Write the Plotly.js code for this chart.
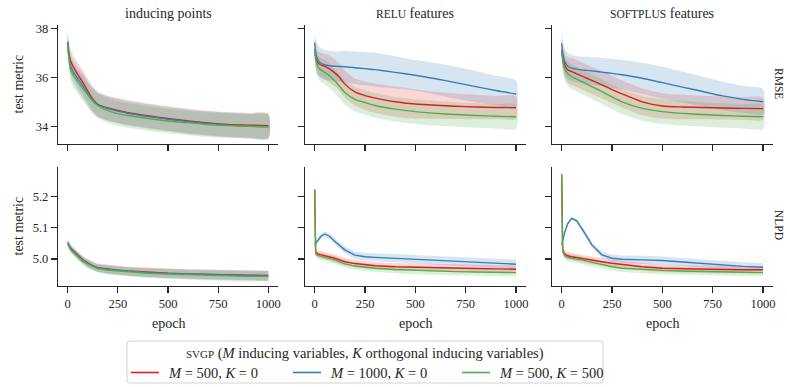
<!DOCTYPE html>
<html>
<head>
<meta charset="utf-8">
<script src="https://cdn.plot.ly/plotly-3.0.1.min.js"></script>
<style>html,body{margin:0;padding:0;background:#fff;}#chart{width:787px;height:387px;}</style>
</head>
<body>
<div id="chart"></div>
<script>
// ---------- data ----------
const epochs = [0, 5, 15, 30, 50, 75, 100, 125, 150, 200, 250, 300, 400, 500, 600, 700, 800, 900, 1000];
const seriesNames = ["<i>M</i> = 500, <i>K</i> = 0", "<i>M</i> = 1000, <i>K</i> = 0", "<i>M</i> = 500, <i>K</i> = 500"];
const seriesColors = ["#e41a1c", "#377eb8", "#4daf4a"];
const bandColors = ["rgba(228,26,28,0.18)", "rgba(55,126,184,0.2)", "rgba(77,175,74,0.2)"];
const columnTitles = ["inducing points", "<span style=\"font-size:11.5px\">RELU</span> features", "<span style=\"font-size:11.5px\">SOFTPLUS</span> features"];
const rowLabels = ["RMSE", "NLPD"];
const legendTitle = '<span style="font-size:11px">SVGP</span> (<i>M</i> inducing variables, <i>K</i> orthogonal inducing variables)';
const xTicks = [0, 250, 500, 750, 1000];
const rmseTicks = [34, 36, 38];
const nlpdTicks = [5.0, 5.1, 5.2];

// inducing points, RMSE
const ipRmseRed   = [37.41, 37.10, 36.65, 36.40, 36.12, 35.80, 35.45, 35.12, 34.90, 34.75, 34.65, 34.56, 34.43, 34.32, 34.22, 34.14, 34.08, 34.05, 34.03];
const ipRmseBlue  = [37.45, 37.00, 36.45, 36.20, 35.95, 35.65, 35.35, 35.08, 34.88, 34.72, 34.62, 34.53, 34.40, 34.29, 34.19, 34.11, 34.05, 34.01, 33.99];
const ipRmseGreen = [37.35, 36.90, 36.30, 36.05, 35.82, 35.55, 35.28, 35.02, 34.84, 34.64, 34.52, 34.44, 34.32, 34.22, 34.14, 34.07, 34.03, 34.00, 33.98];
const ipRmseSd    = [0.45, 0.45, 0.45, 0.46, 0.48, 0.50, 0.50, 0.50, 0.50, 0.50, 0.50, 0.50, 0.50, 0.50, 0.50, 0.50, 0.50, 0.50, 0.50];

// RELU features, RMSE
const reluRmseRed    = [37.14, 36.85, 36.60, 36.50, 36.44, 36.33, 36.18, 35.98, 35.72, 35.40, 35.25, 35.15, 35.00, 34.91, 34.86, 34.82, 34.79, 34.77, 34.76];
const reluRmseBlue   = [37.41, 37.00, 36.72, 36.58, 36.50, 36.47, 36.45, 36.44, 36.43, 36.39, 36.35, 36.31, 36.20, 36.08, 35.94, 35.78, 35.62, 35.46, 35.32];
const reluRmseGreen  = [37.10, 36.75, 36.45, 36.30, 36.20, 36.05, 35.85, 35.62, 35.38, 35.10, 34.97, 34.85, 34.70, 34.60, 34.53, 34.48, 34.44, 34.41, 34.39];
const reluRmseRedSd  = [0.45, 0.45, 0.48, 0.50, 0.52, 0.55, 0.55, 0.55, 0.55, 0.55, 0.58, 0.60, 0.62, 0.60, 0.55, 0.52, 0.50, 0.48, 0.46];
const reluRmseBlueSd = [0.45, 0.55, 0.60, 0.60, 0.60, 0.60, 0.60, 0.62, 0.64, 0.66, 0.68, 0.69, 0.66, 0.62, 0.64, 0.66, 0.64, 0.60, 0.55];
const reluRmseGreenSd= [0.45, 0.45, 0.46, 0.48, 0.50, 0.50, 0.50, 0.50, 0.50, 0.50, 0.50, 0.50, 0.50, 0.50, 0.50, 0.50, 0.50, 0.50, 0.50];

// SOFTPLUS features, RMSE
const spRmseRed    = [37.10, 36.80, 36.50, 36.30, 36.23, 36.14, 36.05, 35.96, 35.87, 35.69, 35.50, 35.32, 35.00, 34.83, 34.79, 34.77, 34.75, 34.73, 34.72];
const spRmseBlue   = [37.38, 37.00, 36.65, 36.45, 36.37, 36.33, 36.30, 36.28, 36.26, 36.21, 36.16, 36.10, 35.96, 35.78, 35.60, 35.42, 35.24, 35.10, 35.00];
const spRmseGreen  = [37.06, 36.70, 36.35, 36.15, 36.02, 35.92, 35.82, 35.72, 35.62, 35.41, 35.20, 35.00, 34.73, 34.60, 34.53, 34.48, 34.44, 34.41, 34.39];
const spRmseRedSd  = [0.45, 0.48, 0.50, 0.52, 0.55, 0.55, 0.55, 0.55, 0.55, 0.55, 0.55, 0.55, 0.55, 0.52, 0.50, 0.48, 0.47, 0.46, 0.45];
const spRmseBlueSd = [0.50, 0.52, 0.54, 0.54, 0.54, 0.54, 0.54, 0.56, 0.57, 0.58, 0.59, 0.60, 0.63, 0.65, 0.63, 0.60, 0.58, 0.55, 0.52];
const spRmseGreenSd= [0.45, 0.46, 0.48, 0.50, 0.50, 0.50, 0.50, 0.50, 0.50, 0.50, 0.50, 0.50, 0.50, 0.50, 0.50, 0.50, 0.50, 0.50, 0.50];

// inducing points, NLPD
const ipNlpdRed   = [5.052, 5.045, 5.035, 5.025, 5.012, 4.998, 4.987, 4.978, 4.972, 4.967, 4.964, 4.961, 4.957, 4.954, 4.952, 4.950, 4.949, 4.948, 4.947];
const ipNlpdBlue  = [5.051, 5.044, 5.033, 5.023, 5.010, 4.996, 4.985, 4.977, 4.971, 4.966, 4.963, 4.960, 4.956, 4.953, 4.951, 4.949, 4.947, 4.946, 4.945];
const ipNlpdGreen = [5.050, 5.042, 5.030, 5.020, 5.007, 4.993, 4.983, 4.975, 4.969, 4.964, 4.961, 4.958, 4.954, 4.951, 4.949, 4.947, 4.945, 4.944, 4.944];
const ipNlpdSd    = [0.010, 0.010, 0.011, 0.011, 0.012, 0.012, 0.013, 0.013, 0.013, 0.014, 0.014, 0.014, 0.015, 0.015, 0.015, 0.016, 0.016, 0.016, 0.016];

// RELU features, NLPD
const reluNlpdRed    = [5.223, 5.022, 5.016, 5.013, 5.010, 5.006, 5.002, 4.996, 4.991, 4.985, 4.981, 4.978, 4.975, 4.973, 4.971, 4.970, 4.969, 4.968, 4.967];
const reluNlpdBlue   = [5.045, 5.050, 5.060, 5.072, 5.080, 5.072, 5.056, 5.042, 5.029, 5.012, 5.007, 5.005, 5.002, 4.999, 4.996, 4.993, 4.990, 4.986, 4.983];
const reluNlpdGreen  = [5.223, 5.016, 5.011, 5.008, 5.005, 5.001, 4.997, 4.990, 4.984, 4.977, 4.973, 4.970, 4.966, 4.963, 4.961, 4.959, 4.958, 4.957, 4.956];
const reluNlpdRedSd  = [0.008, 0.010, 0.011, 0.012, 0.012, 0.012, 0.012, 0.012, 0.012, 0.012, 0.012, 0.012, 0.012, 0.012, 0.012, 0.012, 0.012, 0.012, 0.012];
const reluNlpdBlueSd = [0.006, 0.006, 0.007, 0.008, 0.008, 0.009, 0.010, 0.010, 0.011, 0.012, 0.012, 0.013, 0.013, 0.014, 0.014, 0.015, 0.015, 0.015, 0.015];
const reluNlpdGreenSd= [0.008, 0.010, 0.011, 0.012, 0.012, 0.012, 0.012, 0.012, 0.012, 0.012, 0.012, 0.012, 0.012, 0.012, 0.012, 0.012, 0.012, 0.012, 0.012];

// SOFTPLUS features, NLPD
const spNlpdRed    = [5.272, 5.030, 5.015, 5.010, 5.007, 5.004, 5.002, 4.999, 4.996, 4.991, 4.986, 4.982, 4.975, 4.970, 4.968, 4.967, 4.966, 4.965, 4.965];
const spNlpdBlue   = [5.045, 5.060, 5.085, 5.113, 5.130, 5.122, 5.098, 5.072, 5.045, 5.013, 5.002, 4.999, 4.997, 4.995, 4.990, 4.985, 4.979, 4.976, 4.973];
const spNlpdGreen  = [5.272, 5.025, 5.010, 5.005, 5.002, 5.000, 4.997, 4.993, 4.989, 4.982, 4.975, 4.970, 4.966, 4.963, 4.961, 4.959, 4.958, 4.957, 4.956];
const spNlpdRedSd  = [0.008, 0.010, 0.011, 0.012, 0.012, 0.012, 0.012, 0.012, 0.012, 0.012, 0.012, 0.012, 0.012, 0.012, 0.012, 0.012, 0.012, 0.012, 0.012];
const spNlpdBlueSd = [0.004, 0.004, 0.005, 0.005, 0.005, 0.006, 0.007, 0.008, 0.009, 0.010, 0.011, 0.012, 0.013, 0.013, 0.013, 0.013, 0.013, 0.013, 0.013];
const spNlpdGreenSd= [0.008, 0.010, 0.011, 0.012, 0.012, 0.012, 0.012, 0.012, 0.012, 0.012, 0.012, 0.012, 0.012, 0.012, 0.012, 0.012, 0.012, 0.012, 0.012];

// ---------- build ----------
const panels = [
  {ax: 1, smooth: true,  means: [ipRmseRed, ipRmseBlue, ipRmseGreen],       sds: [ipRmseSd, ipRmseSd, ipRmseSd]},
  {ax: 2, smooth: true,  means: [reluRmseRed, reluRmseBlue, reluRmseGreen], sds: [reluRmseRedSd, reluRmseBlueSd, reluRmseGreenSd]},
  {ax: 3, smooth: true,  means: [spRmseRed, spRmseBlue, spRmseGreen],       sds: [spRmseRedSd, spRmseBlueSd, spRmseGreenSd]},
  {ax: 4, smooth: false, means: [ipNlpdRed, ipNlpdBlue, ipNlpdGreen],       sds: [ipNlpdSd, ipNlpdSd, ipNlpdSd]},
  {ax: 5, smooth: false, means: [reluNlpdRed, reluNlpdBlue, reluNlpdGreen], sds: [reluNlpdRedSd, reluNlpdBlueSd, reluNlpdGreenSd]},
  {ax: 6, smooth: false, means: [spNlpdRed, spNlpdBlue, spNlpdGreen],       sds: [spNlpdRedSd, spNlpdBlueSd, spNlpdGreenSd]}
];

const traces = [];
panels.forEach(p => {
  const xa = p.ax === 1 ? 'x' : 'x' + p.ax;
  const ya = p.ax === 1 ? 'y' : 'y' + p.ax;
  const shape = p.smooth ? 'spline' : 'linear';
  for (let s = 0; s < 3; s++) {
    const m = p.means[s], sd = p.sds[s];
    const hi = m.map((v, i) => v + sd[i]);
    const lo = m.map((v, i) => v - sd[i]);
    traces.push({
      x: epochs.concat(epochs.slice().reverse()),
      y: hi.concat(lo.slice().reverse()),
      xaxis: xa, yaxis: ya, type: 'scatter', mode: 'lines',
      fill: 'toself', fillcolor: bandColors[s],
      line: {width: 0, shape: shape, smoothing: 0.6},
      hoverinfo: 'skip', showlegend: false
    });
  }
  for (let s = 0; s < 3; s++) {
    traces.push({
      x: epochs, y: p.means[s], xaxis: xa, yaxis: ya, type: 'scatter', mode: 'lines',
      line: {color: seriesColors[s], width: 1.4, shape: shape, smoothing: 0.6},
      name: seriesNames[s], showlegend: false
    });
  }
});

const W = 787, H = 387;
const colPx = [[58, 278], [305, 525.7], [552, 772.7]];
const rowPx = [[25, 144], [167, 286]];
const FONT = 'Liberation Serif, Times New Roman, serif';
const INK = '#262626';

const layout = {
  width: W, height: H, autosize: false,
  margin: {l: 0, r: 0, t: 0, b: 0},
  paper_bgcolor: '#fff', plot_bgcolor: '#fff',
  font: {family: FONT, color: INK, size: 12.5},
  showlegend: false,
  annotations: [],
  shapes: []
};

for (let r = 0; r < 2; r++) {
  for (let c = 0; c < 3; c++) {
    const k = r * 3 + c + 1;
    const xk = k === 1 ? 'xaxis' : 'xaxis' + k;
    const yk = k === 1 ? 'yaxis' : 'yaxis' + k;
    layout[xk] = {
      domain: [colPx[c][0] / W, colPx[c][1] / W],
      anchor: k === 1 ? 'y' : 'y' + k,
      range: [-48, 1048], tickvals: xTicks, ticktext: xTicks.map(String),
      showticklabels: r === 1, ticks: 'outside', ticklen: 6, tickwidth: 1.25, tickcolor: INK,
      showline: true, linecolor: INK, linewidth: 1.25, showgrid: false, zeroline: false,
      tickfont: {family: FONT, size: 12.5, color: INK}
    };
    layout[yk] = {
      domain: [1 - rowPx[r][1] / H, 1 - rowPx[r][0] / H],
      anchor: k === 1 ? 'x' : 'x' + k,
      range: r === 0 ? [33.28, 38.13] : [4.913, 5.295],
      tickvals: r === 0 ? rmseTicks : nlpdTicks,
      ticktext: r === 0 ? rmseTicks.map(String) : nlpdTicks.map(v => v.toFixed(1)),
      showticklabels: c === 0, ticks: 'outside', ticklen: 6, tickwidth: 1.25, tickcolor: INK,
      showline: true, linecolor: INK, linewidth: 1.25, showgrid: false, zeroline: false,
      tickfont: {family: FONT, size: 12.5, color: INK}
    };
  }
}

// column titles and x titles
columnTitles.forEach((t, c) => {
  layout.annotations.push({
    text: t, xref: 'paper', yref: 'paper', showarrow: false,
    x: (colPx[c][0] + colPx[c][1]) / 2 / W, y: 1 - 13 / H, xanchor: 'center', yanchor: 'middle',
    font: {family: FONT, size: 14, color: INK}
  });
  layout.annotations.push({
    text: 'epoch', xref: 'paper', yref: 'paper', showarrow: false,
    x: (colPx[c][0] + colPx[c][1]) / 2 / W, y: 1 - 323 / H, xanchor: 'center', yanchor: 'middle',
    font: {family: FONT, size: 14, color: INK}
  });
});
// row labels and y titles
rowLabels.forEach((t, r) => {
  const yc = 1 - (rowPx[r][0] + rowPx[r][1]) / 2 / H;
  layout.annotations.push({
    text: t, xref: 'paper', yref: 'paper', showarrow: false, textangle: 90,
    x: 779 / W, y: yc + 1.5 / H, xanchor: 'center', yanchor: 'middle',
    font: {family: FONT, size: 11.5, color: INK}
  });
  layout.annotations.push({
    text: 'test metric', xref: 'paper', yref: 'paper', showarrow: false, textangle: -90,
    x: 18 / W, y: yc, xanchor: 'center', yanchor: 'middle',
    font: {family: FONT, size: 14, color: INK}
  });
});

// legend (drawn as a framed box with title and three line entries)
const lgBox = {x0: 127, x1: 603, y0: 341, y1: 383, r: 3};
const px = v => v / W, py = v => 1 - v / H;
const rb = lgBox;
layout.shapes.push({
  type: 'path', xref: 'paper', yref: 'paper',
  path: `M ${px(rb.x0 + rb.r)} ${py(rb.y0)} L ${px(rb.x1 - rb.r)} ${py(rb.y0)} Q ${px(rb.x1)} ${py(rb.y0)} ${px(rb.x1)} ${py(rb.y0 + rb.r)} ` +
        `L ${px(rb.x1)} ${py(rb.y1 - rb.r)} Q ${px(rb.x1)} ${py(rb.y1)} ${px(rb.x1 - rb.r)} ${py(rb.y1)} ` +
        `L ${px(rb.x0 + rb.r)} ${py(rb.y1)} Q ${px(rb.x0)} ${py(rb.y1)} ${px(rb.x0)} ${py(rb.y1 - rb.r)} ` +
        `L ${px(rb.x0)} ${py(rb.y0 + rb.r)} Q ${px(rb.x0)} ${py(rb.y0)} ${px(rb.x0 + rb.r)} ${py(rb.y0)} Z`,
  line: {color: '#d4d4d4', width: 1}, fillcolor: 'rgba(255,255,255,0.85)', layer: 'above'
});
layout.annotations.push({
  text: legendTitle, xref: 'paper', yref: 'paper', showarrow: false,
  x: px((rb.x0 + rb.x1) / 2), y: py(353.5), xanchor: 'center', yanchor: 'middle',
  font: {family: FONT, size: 14.5, color: INK}
});
const lgLineX = [131, 293, 462];
seriesNames.forEach((n, s) => {
  layout.shapes.push({
    type: 'line', xref: 'paper', yref: 'paper',
    x0: px(lgLineX[s]), x1: px(lgLineX[s] + 28), y0: py(372.5), y1: py(372.5),
    line: {color: seriesColors[s], width: 1.6}, layer: 'above'
  });
  layout.annotations.push({
    text: n, xref: 'paper', yref: 'paper', showarrow: false,
    x: px(lgLineX[s] + 35), y: py(372.5), xanchor: 'left', yanchor: 'middle',
    font: {family: FONT, size: 14.5, color: INK}
  });
});

Plotly.newPlot('chart', traces, layout, {displayModeBar: false, staticPlot: true});
</script>
</body>
</html>
